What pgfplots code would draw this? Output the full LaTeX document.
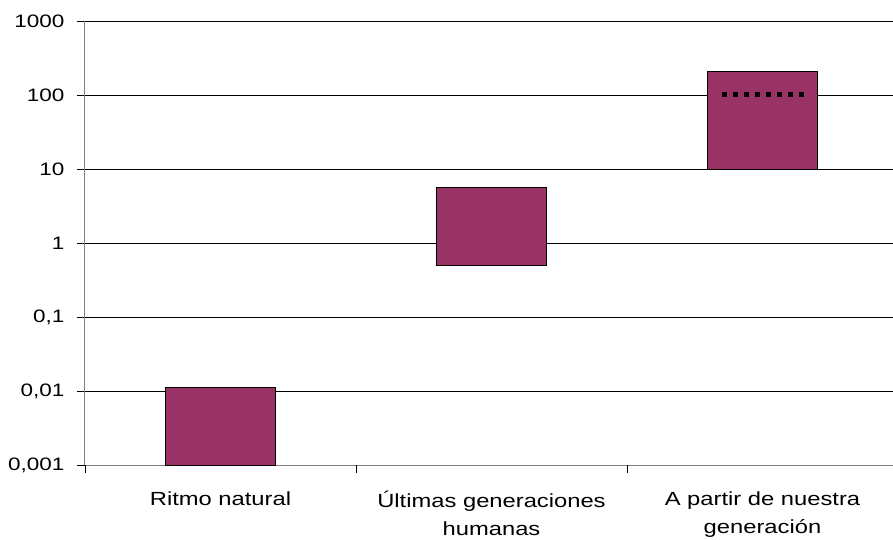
\documentclass[border=0pt]{standalone}
\usepackage{pgfplots}
\pgfplotsset{compat=1.18}
\usepackage{fontspec}
\setmainfont{Liberation Sans}[FakeStretch=1.25]
\definecolor{plum}{HTML}{993366}
\definecolor{axgray}{HTML}{808080}
\begin{document}
\begin{tikzpicture}
\begin{axis}[
  scale only axis,
  width=813bp, height=444bp,
  ymode=log,
  ymin=1e-3, ymax=1e3,
  xmin=-0.5, xmax=2.5,
  axis lines=left,
  axis line style={-, axgray, line width=1bp},
  ytick={1e-3,1e-2,1e-1,1,10,100,1000},
  yticklabels={{0,001},{0,01},{0,1},1,10,100,1000},
  yminorticks=false,
  ymajorgrids,
  grid style={black, line width=0.8bp},
  tick style={black, line width=0.8bp},
  tick align=outside,
  major tick length=8bp,
  xtick={0,1,2},
  xticklabels={Ritmo natural,{Últimas generaciones\\humanas},{A partir de nuestra\\generación}},
  x tick style={draw=none},
  extra x ticks={-0.5,0.5,1.5},
  extra x tick labels={},
  extra x tick style={x tick style={draw=black, line width=0.8bp}, grid=none},
  yticklabel style={font=\fontsize{18bp}{22bp}\selectfont, xshift=-9bp},
  xticklabel style={font=\fontsize{19bp}{28bp}\selectfont, align=center, yshift=-15bp},
  clip=false,
]
% floating bars: (center-0.203, low) -> (center+0.203, high)
\addplot[draw=black, line width=1bp, fill=plum] coordinates {(-0.203,0.001) (0.203,0.001) (0.203,0.011) (-0.203,0.011)} --cycle;
\addplot[draw=black, line width=1bp, fill=plum] coordinates {(0.797,0.5) (1.203,0.5) (1.203,5.6) (0.797,5.6)} --cycle;
\addplot[draw=black, line width=1bp, fill=plum] coordinates {(1.797,10) (2.203,10) (2.203,210) (1.797,210)} --cycle;
\addplot[black, line width=5bp, dash pattern=on 5bp off 6bp, mark=none] coordinates {(1.851,100) (2.157,100)};
\end{axis}
\pgfresetboundingbox
\path[use as bounding box] ([xshift=-85bp,yshift=-75bp]current axis.south west) rectangle ([xshift=-5bp,yshift=21bp]current axis.north east);
\end{tikzpicture}
\end{document}
